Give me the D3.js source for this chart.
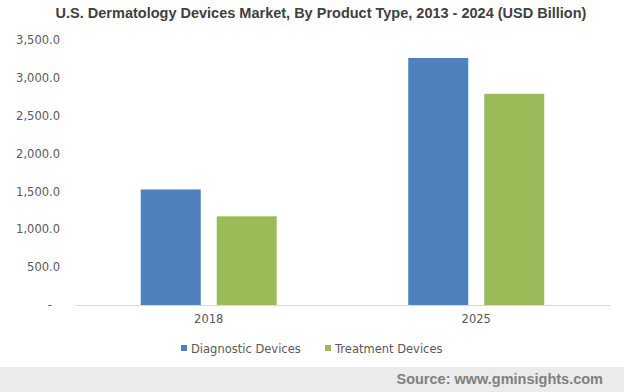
<!DOCTYPE html>
<html>
<head>
<meta charset="utf-8">
<script src="https://cdnjs.cloudflare.com/ajax/libs/d3/7.8.5/d3.min.js"></script>
<style>
  body { margin: 0; background: #fff; }
  svg { display: block; }
</style>
</head>
<body>
<script>
// data
var years = ["2018", "2025"];
var seriesNames = ["Diagnostic Devices", "Treatment Devices"];
var diagnostic = [1526, 3263];
var treatment = [1171, 2789];
var yTicks = [0, 500, 1000, 1500, 2000, 2500, 3000, 3500];
var colors = ["#4f81bd", "#9bbb59"];

var w = 624, h = 392;
var plotLeft = 75, plotRight = 610, plotTop = 40, plotBottom = 305;
var tickFont = "'DejaVu Sans', Verdana, sans-serif";

var svg = d3.select("body").append("svg")
    .attr("width", w)
    .attr("height", h);

// title
svg.append("text")
    .attr("x", 321).attr("y", 18)
    .attr("text-anchor", "middle")
    .style("font-family", "'Liberation Sans', Arial, sans-serif")
    .style("font-weight", "bold")
    .style("font-size", "14.5px")
    .style("fill", "#404040")
    .text("U.S. Dermatology Devices Market, By Product Type, 2013 - 2024 (USD Billion)");

var y = d3.scaleLinear().domain([0, 3500]).range([plotBottom, plotTop]);
var x0 = d3.scaleBand().domain(years).range([plotLeft, plotRight])
    .paddingInner(0.4916).paddingOuter(0.2458);
var x1 = d3.scaleBand().domain(seriesNames).range([0, x0.bandwidth()])
    .paddingInner(16 / 76);

// y axis labels (accounting style: zero shown as a dash)
var yAxis = d3.axisLeft(y).tickValues(yTicks).tickSize(0).tickPadding(0)
    .tickFormat(function(d) { return d === 0 ? "-" : d3.format(",.1f")(d); });
var ya = svg.append("g").attr("transform", "translate(60,0)").call(yAxis);
ya.select(".domain").remove();
ya.selectAll("text")
    .style("font-family", tickFont)
    .style("font-size", "11.5px")
    .style("fill", "#595959")
    .attr("x", function(d) { return d === 0 ? -8 : 0; });

// baseline
svg.append("line")
    .attr("x1", plotLeft).attr("x2", plotRight)
    .attr("y1", y(0) + 0.5).attr("y2", y(0) + 0.5)
    .attr("stroke", "#d9d9d9").attr("stroke-width", 1);

// bars
var rows = years.map(function(yr, i) {
    return { year: yr, vals: [diagnostic[i], treatment[i]] };
});
var groups = svg.selectAll("g.grp")
    .data(rows)
    .enter().append("g")
    .attr("class", "grp")
    .attr("transform", function(d) { return "translate(" + x0(d.year) + ",0)"; });
groups.selectAll("rect")
    .data(function(d) { return d.vals.map(function(v, j) { return { name: seriesNames[j], v: v, j: j }; }); })
    .enter().append("rect")
    .attr("x", function(d) { return x1(d.name); })
    .attr("y", function(d) { return y(d.v); })
    .attr("width", x1.bandwidth())
    .attr("height", function(d) { return y(0) - y(d.v); })
    .attr("fill", function(d) { return colors[d.j]; });

// x axis labels
var xAxis = d3.axisBottom(x0).tickSize(0).tickPadding(0);
var xa = svg.append("g").attr("transform", "translate(0," + (plotBottom + 10) + ")").call(xAxis);
xa.select(".domain").remove();
xa.selectAll("text")
    .style("font-family", tickFont)
    .style("font-size", "11.5px")
    .style("fill", "#595959");

// legend
var legX = [181, 325];
var leg = svg.selectAll("g.leg")
    .data(seriesNames)
    .enter().append("g")
    .attr("class", "leg")
    .attr("transform", function(d, i) { return "translate(" + legX[i] + ",345)"; });
leg.append("rect")
    .attr("width", 6).attr("height", 6)
    .attr("fill", function(d, i) { return colors[i]; });
leg.append("text")
    .attr("x", 10).attr("y", 7.5)
    .style("font-family", tickFont)
    .style("font-size", "11.5px")
    .style("fill", "#595959")
    .text(function(d) { return d; });

// footer
svg.append("rect")
    .attr("x", 0).attr("y", 367)
    .attr("width", w).attr("height", h - 367)
    .attr("fill", "#ebebeb");
svg.append("text")
    .attr("x", 603).attr("y", 384)
    .attr("text-anchor", "end")
    .style("font-family", "'Liberation Sans', Arial, sans-serif")
    .style("font-weight", "bold")
    .style("font-size", "14.5px")
    .style("fill", "#808080")
    .text("Source: www.gminsights.com");
</script>
</body>
</html>
